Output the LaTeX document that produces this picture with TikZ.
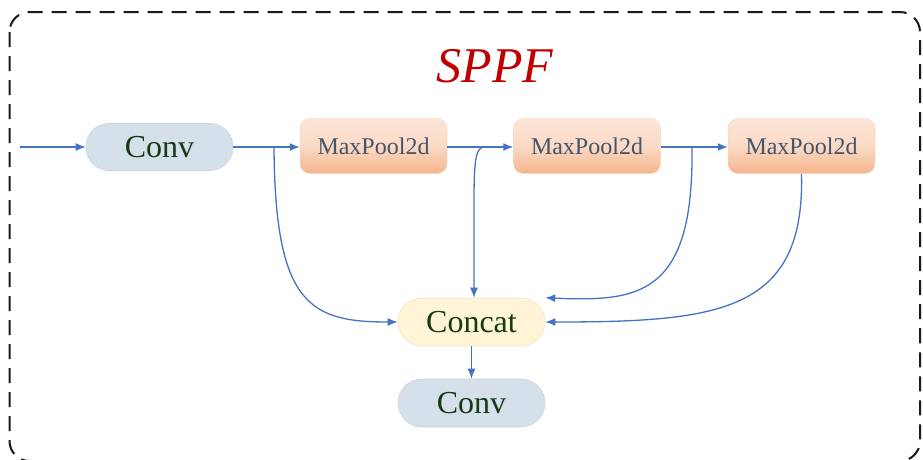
\documentclass[tikz,border=0pt]{standalone}
\usepackage{fontspec}
\setmainfont{Liberation Serif}
\usetikzlibrary{arrows.meta}
\definecolor{arrowblue}{HTML}{4472C4}
\definecolor{convfill}{HTML}{D6E0EA}
\definecolor{convline}{HTML}{C9D4DF}
\definecolor{catfill}{HTML}{FFF4D6}
\definecolor{catline}{HTML}{EFE4C4}
\definecolor{pooltop}{HTML}{FCE6D8}
\definecolor{poolbot}{HTML}{F5B58C}
\definecolor{pooltext}{HTML}{44546A}
\definecolor{labelgreen}{HTML}{163A16}
\definecolor{titlered}{HTML}{C00000}
\tikzset{
  pill/.style={draw=#1, line width=0.6pt, rounded corners=23pt,
    minimum width=147pt, minimum height=47pt, inner sep=0pt,
    text=labelgreen, font=\fontsize{32}{36}\selectfont},
  poolbox/.style={draw=pooltop!70!poolbot, line width=0.5pt, rounded corners=10pt,
    top color=pooltop, bottom color=poolbot, middle color=pooltop!75!poolbot,
    minimum width=147pt, minimum height=55pt, inner sep=0pt,
    text=pooltext, font=\fontsize{24}{28}\selectfont},
  link/.style={draw=arrowblue, line width=1.3pt, -{Latex[length=10pt,width=8pt]}},
}
\begin{document}
\begin{tikzpicture}[x=1pt,y=-1pt]
\useasboundingbox (0,0) rectangle (923,459);
% dashed frame
\draw[line width=2pt, dash pattern=on 15pt off 9pt, rounded corners=20pt, black!90]
  (9.5,12) rectangle (920,461);
% title
\node (title) at (495,66) {\fontsize{50}{56}\selectfont\itshape\color{titlered}SPPF};
% blocks
\node[pill=convline, fill=convfill] (conv1) at (159.5,147) {Conv};
\node[poolbox] (mp1) at (373.5,146) {MaxPool2d};
\node[poolbox] (mp2) at (587,146) {MaxPool2d};
\node[poolbox] (mp3) at (801.5,146) {MaxPool2d};
\node[pill=catline, fill=catfill, minimum height=48pt, rounded corners=24pt] (cat) at (471.5,322) {Concat};
\node[pill=convline, fill=convfill, minimum height=48pt, rounded corners=24pt] (conv2) at (471.5,403) {Conv};
% branch points on the main line
\coordinate (src) at (20,147);
\coordinate (j1) at (274,147);
\coordinate (j2) at (483,147);
\coordinate (j3) at (692,147);
\coordinate (drop) at (474,200);
% main chain
\draw[link] (src) -- (conv1.west);
\draw[link] (conv1.east) -- (mp1.west |- conv1.east);
\draw[link] (mp1.east |- j2) -- (mp2.west |- j2);
\draw[link] (mp2.east |- j3) -- (mp3.west |- j3);
% branches into Concat
\draw[link] (j1) .. controls (275,305) and (310,322) .. (cat.west);
\draw[link] (j2) .. controls (476,149) and (474,160) .. (drop) -- (drop |- cat.north);
\draw[link] (j3) .. controls (694,295) and (640,302) .. (cat.north east);
\draw[link] (mp3.south) .. controls (805,312) and (720,322) .. (cat.east);
% output
\draw[link] (cat.south) -- (conv2.north);
\end{tikzpicture}
\end{document}
